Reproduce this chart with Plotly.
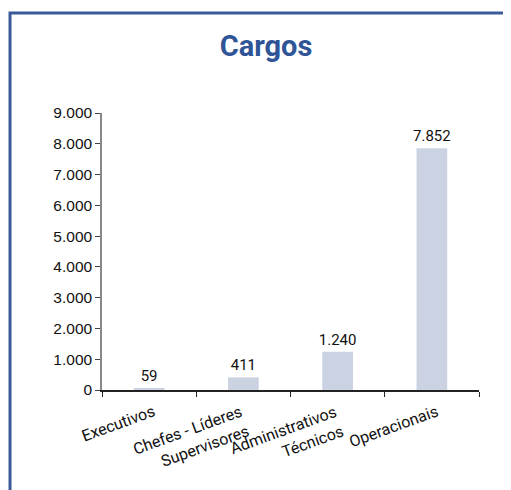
import plotly.graph_objects as go

categories = ["Executivos", "Chefes - Líderes<br>Supervisores", "Administrativos<br>Técnicos", "Operacionais"]
values = [59, 411, 1240, 7852]
title_text = "Cargos"

fig = go.Figure()
fig.add_trace(go.Bar(
    x=categories, y=values,
    marker=dict(color="#CBD3E3", line=dict(width=0)),
    width=0.326,
    texttemplate="%{y:,d}", textposition="outside", textangle=0,
    constraintext="none",
    textfont=dict(family="Roboto", size=15, color="#111111"),
    cliponaxis=False,
))

for cat in categories:
    fig.add_annotation(
        x=cat, xref="x", y=0, yref="paper",
        text=cat, showarrow=False, textangle=-20,
        xanchor="right", yanchor="top", align="right",
        xshift=11, yshift=-9,
        font=dict(family="Roboto", size=16, color="#111111"),
    )

fig.update_layout(
    width=511, height=490,
    margin=dict(l=94, r=40, t=105, b=108),
    paper_bgcolor="white", plot_bgcolor="white",
    separators=",.",
    showlegend=False,
    title=dict(text="<b>" + title_text + "</b>", x=0.505, xanchor="center", y=0.923, yanchor="middle",
               font=dict(family="Roboto", size=29, color="#2F5597")),
    font=dict(family="Roboto", size=15, color="#111111"),
)
fig.update_xaxes(
    range=[-0.5, len(categories) - 0.5], autorange=False,
    showline=True, linecolor="#222222", linewidth=1.5,
    ticks="outside", ticklen=5, tickcolor="#222222", tickson="boundaries",
    showticklabels=False,
    showgrid=False,
)
fig.update_yaxes(
    range=[0, 9000], autorange=False, dtick=1000, tickformat=",d",
    showline=True, linecolor="#888888", linewidth=1.5,
    ticks="outside", ticklen=5, tickcolor="#444444",
    tickfont=dict(family="Liberation Sans", size=15.5, color="#111111"),
    showgrid=False, zeroline=False,
)
fig.add_shape(type="rect", xref="paper", yref="paper",
              x0=-0.244, x1=1.3, y0=-0.6, y1=1.361,
              line=dict(color="#3A5A9A", width=3), fillcolor="rgba(0,0,0,0)", layer="below")

fig.write_html("out.html")
